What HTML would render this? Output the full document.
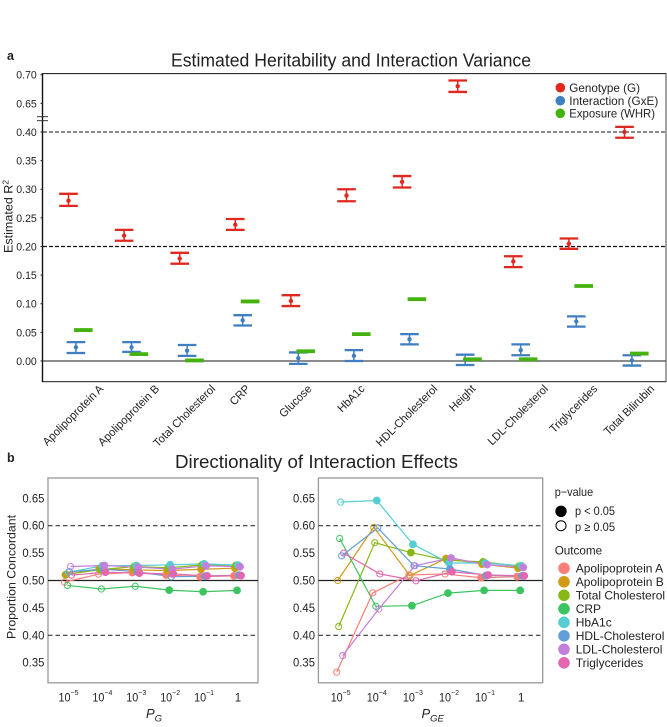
<!DOCTYPE html>
<html lang="en">
<head>
<meta charset="utf-8">
<title>Estimated Heritability and Directionality of Interaction Effects</title>
<style>
html,body{margin:0;padding:0;background:#fff;width:667px;height:727px;overflow:hidden}
svg{display:block}
text{font-family:"Liberation Sans",sans-serif;fill:#222}
</style>
</head>
<body>
<svg id="chart" xmlns="http://www.w3.org/2000/svg" width="667" height="727" viewBox="0 0 667 727">
  <rect x="0" y="0" width="667" height="727" fill="#fff"/>

  <text x="7" y="60" font-size="12.5" font-weight="bold">a</text>
  <text x="171" y="66.5" font-size="18" textLength="360" lengthAdjust="spacingAndGlyphs">Estimated Heritability and Interaction Variance</text>
  <text transform="translate(12.5,253) rotate(-90)" font-size="12" textLength="73" lengthAdjust="spacingAndGlyphs">Estimated R<tspan font-size="8" dy="-4">2</tspan></text>

  <g id="panelA">
    <line x1="43" x2="666" y1="132" y2="132" stroke="#444" stroke-width="1.2" stroke-dasharray="4 2"/>
    <line x1="43" x2="666" y1="246.5" y2="246.5" stroke="#111" stroke-width="1.2" stroke-dasharray="4 2"/>
    <line x1="43" x2="666" y1="361" y2="361" stroke="#666" stroke-width="1.6"/>
    <line x1="42" x2="666.5" y1="73.6" y2="73.6" stroke="#111" stroke-width="1"/>
    <line x1="666" x2="666" y1="73" y2="382" stroke="#444" stroke-width="1"/>
    <line x1="42" x2="666.5" y1="381.6" y2="381.6" stroke="#444" stroke-width="1.2"/>
    <line x1="42.5" x2="42.5" y1="73" y2="382" stroke="#111" stroke-width="1.4"/>
    <line x1="37" x2="48" y1="116.7" y2="116.7" stroke="#222" stroke-width="0.9"/>
    <line x1="37" x2="48" y1="120.7" y2="120.7" stroke="#222" stroke-width="0.9"/>
  </g>

  <g>
    <circle cx="560.3" cy="87.7" r="4.8" fill="#e0281f"/>
    <circle cx="560.3" cy="100.7" r="4.8" fill="#3f7fc1"/>
    <circle cx="560.3" cy="113.3" r="4.8" fill="#45b20f"/>
    <text x="569.3" y="91.8" font-size="12" textLength="70.7" lengthAdjust="spacingAndGlyphs">Genotype (G)</text>
    <text x="569.3" y="104.8" font-size="12" textLength="89" lengthAdjust="spacingAndGlyphs">Interaction (GxE)</text>
    <text x="569.3" y="117.4" font-size="12" textLength="85.7" lengthAdjust="spacingAndGlyphs">Exposure (WHR)</text>
  </g>

  <text x="7" y="462" font-size="12.5" font-weight="bold">b</text>
  <text x="175" y="468" font-size="18" textLength="283" lengthAdjust="spacingAndGlyphs">Directionality of Interaction Effects</text>
  <text transform="translate(15.5,639) rotate(-90)" font-size="12" textLength="124" lengthAdjust="spacingAndGlyphs">Proportion Concordant</text>
  <text x="146" y="718" font-size="13" font-style="italic">P<tspan font-size="9.5" dy="3.5">G</tspan></text>
  <text x="421.5" y="718" font-size="13" font-style="italic">P<tspan font-size="9.5" dy="3.5">GE</tspan></text>

  <g id="panelBL"></g>
  <g id="panelBR"></g>

  <g>
    <text x="554.7" y="496" font-size="12" textLength="38.5" lengthAdjust="spacingAndGlyphs">p−value</text>
    <circle cx="561" cy="511.3" r="5.7" fill="#000"/>
    <circle cx="561" cy="525.7" r="5" fill="#fff" stroke="#000" stroke-width="1"/>
    <text x="575" y="515" font-size="12" textLength="40" lengthAdjust="spacingAndGlyphs">p &lt; 0.05</text>
    <text x="575" y="531" font-size="12" textLength="40" lengthAdjust="spacingAndGlyphs">p ≥ 0.05</text>
  </g>
  <g id="outcomeLegend">
    <text x="554.7" y="554.3" font-size="12" textLength="47.5" lengthAdjust="spacingAndGlyphs">Outcome</text>
  </g>
</svg>

<script>
// ---------- Panel a data ----------
const traitNames = ['Apolipoprotein A','Apolipoprotein B','Total Cholesterol','CRP','Glucose','HbA1c','HDL-Cholesterol','Height','LDL-Cholesterol','Triglycerides','Total Bilirubin'];
const genotypeMeans = [0.280,0.219,0.179,0.238,0.105,0.289,0.313,0.680,0.174,0.205,0.400];
const genotypeLows  = [0.271,0.210,0.170,0.229,0.096,0.279,0.303,0.670,0.164,0.196,0.390];
const genotypeHighs = [0.292,0.229,0.189,0.248,0.115,0.300,0.323,0.690,0.183,0.214,0.409];
const interactionMeans = [0.024,0.024,0.018,0.071,0.005,0.009,0.038,0.002,0.019,0.069,0.001];
const interactionLows  = [0.014,0.016,0.009,0.062,-0.005,0.000,0.029,-0.007,0.010,0.060,-0.008];
const interactionHighs = [0.033,0.033,0.028,0.080,0.015,0.019,0.047,0.011,0.029,0.078,0.010];
const exposureMeans = [0.054,0.012,0.001,0.104,0.017,0.047,0.108,0.003,0.003,0.131,0.013];
const heritabilityTicks = ['0.70','0.65','0.40','0.35','0.30','0.25','0.20','0.15','0.10','0.05','0.00'];

// ---------- Panel b data ----------
const outcomeNames = ['Apolipoprotein A','Apolipoprotein B','Total Cholesterol','CRP','HbA1c','HDL-Cholesterol','LDL-Cholesterol','Triglycerides'];
const outcomeColors = ['#fb7f78','#d29a17','#88b815','#3cc45f','#55cdd2','#629fd9','#c47fdd','#e267b0'];
const thresholdExponents = ['−5','−4','−3','−2','−1',''];
const concordanceTicks = ['0.65','0.60','0.55','0.50','0.45','0.40','0.35'];

const pgValues = [
  [0.497,0.5115,0.5145,0.510,0.507,0.5085],
  [0.5105,0.5215,0.5195,0.518,0.5205,0.5225],
  [0.511,0.520,0.5255,0.523,0.5285,0.5275],
  [0.491,0.4845,0.4895,0.4825,0.4795,0.482],
  [0.5152,0.5268,0.5274,0.5286,0.5304,0.528],
  [0.516,0.5205,0.516,0.5067,0.508,0.5097],
  [0.5255,0.5274,0.5243,0.5207,0.5268,0.525],
  [0.5097,0.5152,0.5134,0.512,0.5085,0.509]
];
const pgSignificant = [
  [0,0,1,1,1,1],[1,1,1,1,1,1],[0,1,1,1,1,1],[0,0,0,1,1,1],
  [0,1,1,1,1,1],[0,1,1,0,1,1],[0,1,1,1,1,1],[0,1,1,1,1,1]
];
const pgeValues = [
  [0.3327,0.4775,0.510,0.512,0.505,0.507],
  [0.500,0.597,0.509,0.540,0.530,0.5225],
  [0.416,0.569,0.551,0.537,0.534,0.526],
  [0.5766,0.453,0.454,0.477,0.482,0.482],
  [0.643,0.646,0.566,0.532,0.532,0.527],
  [0.545,0.596,0.527,0.521,0.509,0.5085],
  [0.363,0.448,0.527,0.541,0.529,0.524],
  [0.550,0.512,0.4995,0.516,0.510,0.5085]
];
const pgeSignificant = [
  [0,0,0,0,1,1],[0,0,0,1,1,1],[0,0,1,1,1,1],[0,0,1,1,1,1],
  [0,1,1,1,1,1],[0,0,0,1,1,1],[0,0,0,1,1,1],[0,0,0,1,1,1]
];

// ---------- helpers ----------
const NS = 'http://www.w3.org/2000/svg';
function make(parent, tag, attrs) {
  const el = document.createElementNS(NS, tag);
  for (const k in attrs) el.setAttribute(k, attrs[k]);
  parent.appendChild(el);
  return el;
}
function slug(s) { return s.toLowerCase().replace(/[^a-z0-9]+/g, '-'); }

// ---------- Panel a axes ----------
function heritX(i) { return 68.5 + 55.6 * i; }
function heritY(v) { return v > 0.5 ? 361 - (v - 0.2) * 572.5 : 361 - v * 572.5; }

const panelA = document.getElementById('panelA');

heritabilityTicks.forEach(function (t) {
  const y = heritY(parseFloat(t));
  const tick = make(panelA, 'line', {x1: 40.5, x2: 42.5, y1: y, y2: y, stroke: '#222', 'stroke-width': 1});
  
  
  const lab = make(panelA, 'text', {x: 36.8, y: y + 3.9, 'font-size': 11, 'text-anchor': 'end', textLength: 20.5, lengthAdjust: 'spacingAndGlyphs'});
  lab.textContent = t;
  
  
});

function drawErrorBar(i, offset, mean, lo, hi, color, name) {
  const g = make(panelA, 'g', {});
  
  
  const x = heritX(i) + offset, half = 9.3;
  make(g, 'line', {x1: x, x2: x, y1: heritY(hi), y2: heritY(lo), stroke: color, 'stroke-width': 1.5});
  make(g, 'line', {x1: x - half, x2: x + half, y1: heritY(hi), y2: heritY(hi), stroke: color, 'stroke-width': 2.3});
  make(g, 'line', {x1: x - half, x2: x + half, y1: heritY(lo), y2: heritY(lo), stroke: color, 'stroke-width': 2.3});
  make(g, 'circle', {cx: x, cy: heritY(mean), r: 2.2, fill: color});
}

traitNames.forEach(function (name, i) {
  drawErrorBar(i, 0, genotypeMeans[i], genotypeLows[i], genotypeHighs[i], '#e0281f', 'genotype-error-bar');
  drawErrorBar(i, 7.4, interactionMeans[i], interactionLows[i], interactionHighs[i], '#3f7fc1', 'interaction-error-bar');
  const yg = heritY(exposureMeans[i]);
  const bar = make(panelA, 'line', {x1: heritX(i) + 14.8 - 9.3, x2: heritX(i) + 14.8 + 9.3, y1: yg, y2: yg, stroke: '#45b20f', 'stroke-width': 3.8});
  
  
});

traitNames.forEach(function (name, i) {
  const lab = make(panelA, 'text', {'font-size': 11.5, 'text-anchor': 'middle'});
  lab.textContent = name;
  
  
  const len = lab.getComputedTextLength() * 0.96;
  lab.setAttribute('textLength', len);
  lab.setAttribute('lengthAdjust', 'spacingAndGlyphs');
  const cx = heritX(i) + 7.2;
  const cy = 385.5 + len / 2 * 0.7071 + 4;
  lab.setAttribute('transform', 'translate(' + cx + ',' + cy + ') rotate(-45)');
});

// ---------- Panel b axes ----------
function concY(v) { return 580.5 - (v - 0.5) * 548; }

function drawConcordance(group, prefix, frameLeft, frameRight, firstX, stepX, values, significant, labelRight) {
  function xPos(j) { return firstX + stepX * j; }
  function dodge(s) { return s - 3.5; }

  const frame = make(group, 'rect', {x: frameLeft, y: 478, width: frameRight - frameLeft, height: 204.8, fill: 'none', stroke: '#999', 'stroke-width': 1.3});
  
  

  [0.6, 0.4].forEach(function (v) {
    const d = make(group, 'line', {x1: frameLeft, x2: frameRight, y1: concY(v), y2: concY(v), stroke: '#333', 'stroke-width': 1.1, 'stroke-dasharray': '4.5 3'});
    
    
  });
  const mid = make(group, 'line', {x1: frameLeft, x2: frameRight, y1: concY(0.5), y2: concY(0.5), stroke: '#222', 'stroke-width': 1.3});
  
  

  concordanceTicks.forEach(function (t) {
    const lab = make(group, 'text', {x: labelRight, y: concY(parseFloat(t)) + 4, 'font-size': 11.5, 'text-anchor': 'end', textLength: 22, lengthAdjust: 'spacingAndGlyphs'});
    lab.textContent = t;
    
    
  });

  thresholdExponents.forEach(function (exp, j) {
    const lab = make(group, 'text', {x: xPos(j) + 0.5, y: 701.7, 'font-size': 11.5, 'text-anchor': 'middle'});
    
    
    if (exp) {
      lab.appendChild(document.createTextNode('10'));
      const sup = make(lab, 'tspan', {'font-size': 7.5, dy: -6.5});
      sup.textContent = exp;
      lab.setAttribute('textLength', 20);
      lab.setAttribute('lengthAdjust', 'spacingAndGlyphs');
    } else {
      lab.textContent = '1';
    }
  });

  values.forEach(function (series, s) {
    const pts = series.map(function (v, j) { return (xPos(j) + dodge(s)) + ',' + concY(v); }).join(' ');
    const line = make(group, 'polyline', {points: pts, fill: 'none', stroke: outcomeColors[s], 'stroke-width': 1.2});
    
    
  });

  values.forEach(function (series, s) {
    series.forEach(function (v, j) {
      const filled = significant[s][j] === 1;
      const pt = make(group, 'circle', {
        cx: xPos(j) + dodge(s), cy: concY(v), r: filled ? 3.6 : 3.1,
        fill: filled ? outcomeColors[s] : 'none',
        stroke: outcomeColors[s], 'stroke-width': filled ? 0.6 : 1
      });
      
      
    });
  });
}

drawConcordance(document.getElementById('panelBL'), 'pg', 48, 258, 68, 33.9, pgValues, pgSignificant, 44.4);
drawConcordance(document.getElementById('panelBR'), 'pge', 318.4, 542.7, 340.2, 36.1, pgeValues, pgeSignificant, 315);

// ---------- Outcome legend ----------
const outcomeLegend = document.getElementById('outcomeLegend');
outcomeNames.forEach(function (name, i) {
  const y = 568.3 + 13.5 * i;
  const sw = make(outcomeLegend, 'circle', {cx: 564, cy: y, r: 5.8, fill: outcomeColors[i]});
  
  
  const lab = make(outcomeLegend, 'text', {x: 575.7, y: y + 4, 'font-size': 12});
  lab.textContent = name;
  
  
});
</script>
</body>
</html>
